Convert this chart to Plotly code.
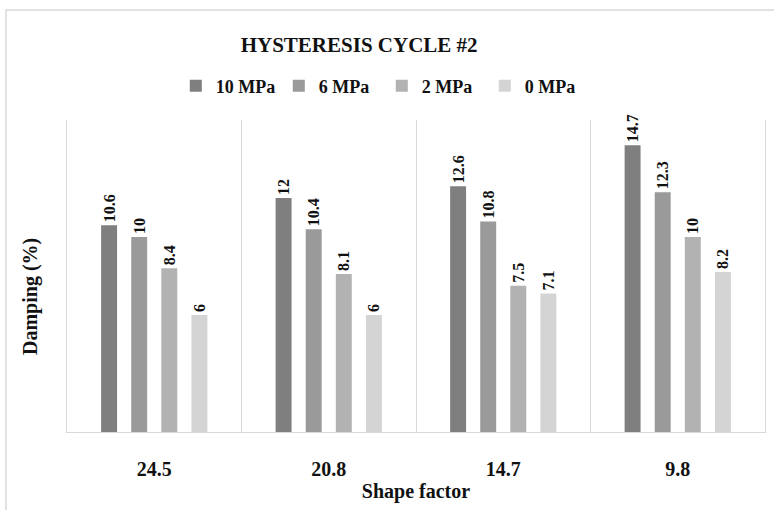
import plotly.graph_objects as go

# Damping measured in hysteresis cycle #2, per shape factor and vertical pressure
shape_factors = ["24.5", "20.8", "14.7", "9.8"]
series_names = ["10 MPa", "6 MPa", "2 MPa", "0 MPa"]
damping_10 = [10.6, 12.0, 12.6, 14.7]
damping_6 = [10.0, 10.4, 10.8, 12.3]
damping_2 = [8.4, 8.1, 7.5, 10.0]
damping_0 = [6.0, 6.0, 7.1, 8.2]
bar_colors = ["#7f7f7f", "#9a9a9a", "#b2b2b2", "#d4d4d4"]

SERIF = "Liberation Serif, Times New Roman, serif"
GRID = "#d9d9d9"

fig = go.Figure()
for name, values, color in zip(series_names,
                               [damping_10, damping_6, damping_2, damping_0],
                               bar_colors):
    fig.add_trace(go.Bar(
        x=shape_factors,
        y=values,
        name=name,
        marker=dict(color=color, line=dict(width=0)),
        text=[f"{v:g}" for v in values],
        textposition="outside",
        textangle=-90,
        constraintext="none",
        textfont=dict(family=SERIF, size=16, color="#111111", weight="bold"),
        cliponaxis=False,
    ))

fig.update_layout(
    width=774,
    height=510,
    margin=dict(l=67, r=9, t=120, b=78),
    paper_bgcolor="white",
    plot_bgcolor="white",
    barmode="group",
    bargap=0.31,
    bargroupgap=0.47,
    font=dict(family=SERIF, color="#111111"),
    title=dict(
        text="<b>HYSTERESIS CYCLE #2</b>",
        font=dict(family=SERIF, size=21, color="#111111"),
        x=0.464, xref="container", xanchor="center",
        y=1 - 45 / 510, yref="container", yanchor="middle",
    ),
    legend=dict(
        orientation="h",
        x=0.451, xanchor="center",
        y=1.109, yanchor="middle",
        font=dict(family=SERIF, size=18, color="#111111", weight="bold"),
        entrywidth=58,
        itemwidth=30,
        bgcolor="rgba(0,0,0,0)",
    ),
    xaxis=dict(
        type="category",
        tickson="boundaries",
        ticks="",
        showgrid=True,
        gridcolor=GRID,
        gridwidth=1,
        showline=True,
        linecolor=GRID,
        linewidth=1,
        tickfont=dict(family=SERIF, size=20, color="#111111", weight="bold"),
        ticklabelstandoff=19,
        title=dict(
            text="<b>Shape factor</b>",
            font=dict(family=SERIF, size=20, color="#111111"),
            standoff=4,
        ),
    ),
    yaxis=dict(
        range=[0, 16],
        showgrid=False,
        zeroline=False,
        showticklabels=False,
        ticks="",
        showline=True,
        mirror=True,
        linecolor=GRID,
        linewidth=1,
    ),
    shapes=[
        # chart frame around the whole figure
        dict(type="rect", xref="paper", yref="paper",
             x0=(6 - 67) / 698, x1=1.2,
             y0=-0.6, y1=(432 - 10) / 312,
             line=dict(color=GRID, width=1.5), fillcolor="rgba(0,0,0,0)",
             layer="below"),
    ],
    annotations=[
        dict(text="<b>Damping (%)</b>", textangle=-90,
             xref="paper", yref="paper",
             x=(30 - 67) / 698, y=(432 - 297) / 312,
             xanchor="center", yanchor="middle", showarrow=False,
             font=dict(family=SERIF, size=20, color="#111111")),
    ],
)

fig.write_html("out.html")
